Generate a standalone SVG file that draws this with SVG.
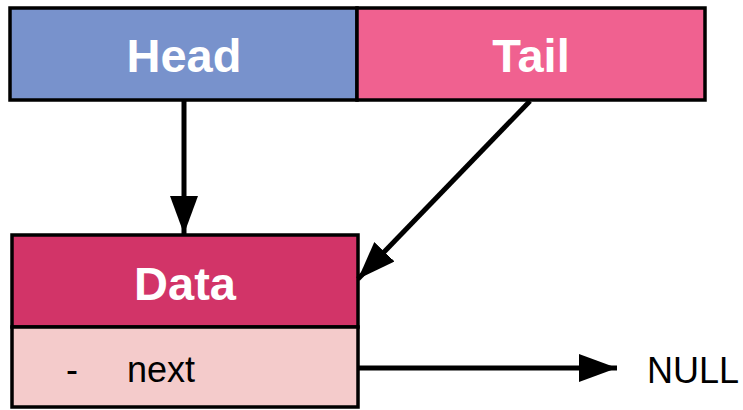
<svg xmlns="http://www.w3.org/2000/svg" width="743" height="410" viewBox="0 0 743 410">
<style>
.box{stroke:#000;stroke-width:3.5}
.bold{font-family:"Liberation Sans",Arial,sans-serif;font-weight:bold;font-size:47px;fill:#fff;text-anchor:middle}
.reg{font-family:"Liberation Sans",Arial,sans-serif;font-size:36px;fill:#000}
.conn{stroke:#000;stroke-width:5;fill:none}
</style>
<defs>
<marker id="arr" markerUnits="userSpaceOnUse" markerWidth="40" markerHeight="30" refX="38" refY="14" orient="auto">
<path d="M0,0 L38,14 L0,28 Z" fill="#000"/>
</marker>
</defs>
<rect width="743" height="410" fill="#fff"/>
<g id="head">
<rect class="box" x="10" y="8" width="347" height="92" fill="#7892cc"/>
<text class="bold" x="184" y="72">Head</text>
</g>
<g id="tail">
<rect class="box" x="357" y="8" width="348" height="92" fill="#f06190"/>
<text class="bold" x="531" y="72">Tail</text>
</g>
<g id="data">
<rect class="box" x="12" y="235" width="346" height="92" fill="#d23468"/>
<text class="bold" x="185" y="300">Data</text>
<rect class="box" x="12" y="327" width="346" height="80" fill="#f4cbcb"/>
<text class="reg" x="66" y="382">-</text>
<text class="reg" x="127" y="382">next</text>
</g>
<g id="null">
<text class="reg" x="647" y="383">NULL</text>
</g>
<g id="connectors">
<line class="conn" x1="184" y1="100" x2="184" y2="234" marker-end="url(#arr)"/>
<line class="conn" x1="530" y1="101" x2="358" y2="279" marker-end="url(#arr)"/>
<line class="conn" x1="358" y1="368" x2="617" y2="368" marker-end="url(#arr)"/>
</g>
</svg>
